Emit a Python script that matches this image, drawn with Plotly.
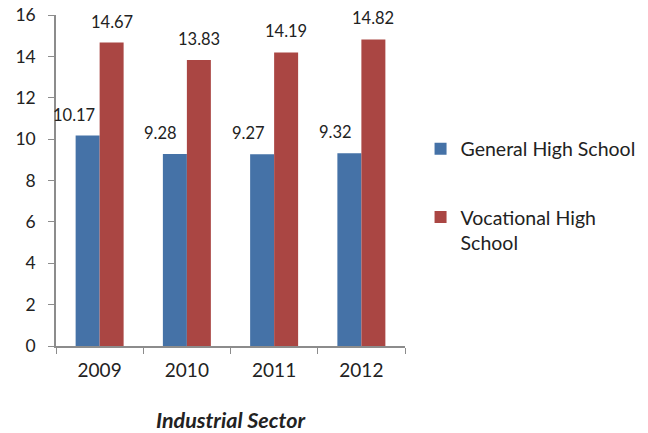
import plotly.graph_objects as go

years = ["2009", "2010", "2011", "2012"]
general = [10.17, 9.28, 9.27, 9.32]
vocational = [14.67, 13.83, 14.19, 14.82]
y_ticks = [0, 2, 4, 6, 8, 10, 12, 14, 16]

FONT = "Lato"
TXT = "#222222"
BLUE = "#4572A7"
RED = "#AA4643"

fig = go.Figure()
fig.add_trace(go.Bar(x=years, y=general, name="General High School",
                     marker=dict(color=BLUE, line=dict(width=0)), legendgroup="g"))
fig.add_trace(go.Bar(x=years, y=vocational, name="Vocational High<br>School",
                     marker=dict(color=RED, line=dict(width=0)), legendgroup="v"))

annotations = []
for i, (g, v) in enumerate(zip(general, vocational)):
    annotations.append(dict(x=i, y=g, xref="x", yref="y", text=f"{g:.2f}", showarrow=False,
                            xshift=-26, yshift=21, yanchor="middle",
                            font=dict(family=FONT, size=16.5, color=TXT)))
    annotations.append(dict(x=i, y=v, xref="x", yref="y", text=f"{v:.2f}", showarrow=False,
                            xshift=12, yshift=21, yanchor="middle",
                            font=dict(family=FONT, size=16.5, color=TXT)))

fig.update_layout(
    width=648, height=433,
    margin=dict(l=56, r=243, t=15, b=87, autoexpand=False),
    paper_bgcolor="white", plot_bgcolor="white",
    barmode="group", bargap=0.45, bargroupgap=0,
    font=dict(family=FONT, size=16, color=TXT),
    showlegend=True,
    legend=dict(xref="container", yref="container", x=0.649, y=0.701,
                xanchor="left", yanchor="top",
                font=dict(family=FONT, size=19.5, color=TXT),
                tracegroupgap=40, traceorder="grouped", valign="top",
                itemwidth=30),
    annotations=annotations,
    xaxis=dict(type="category", range=[-0.5, len(years) - 0.5], showline=True,
               automargin=False,
               linecolor="#8c8c8c", linewidth=1.5,
               ticks="outside", ticklen=6, tickcolor="#8c8c8c", tickson="boundaries",
               tickfont=dict(family=FONT, size=19, color=TXT), ticklabelstandoff=6,
               title=dict(text="<b><i>Industrial Sector</i></b>", standoff=45,
                          font=dict(family=FONT, size=21.5, color=TXT)),
               showgrid=False),
    yaxis=dict(range=[0, 16], tickvals=y_ticks, showline=True, linecolor="#8c8c8c",
               automargin=False, ticklabeloverflow="allow",
               linewidth=1.5, ticks="outside", ticklen=6, tickcolor="#8c8c8c",
               tickfont=dict(family=FONT, size=17.5, color=TXT), ticklabelstandoff=9,
               showgrid=False, zeroline=False),
)

fig.write_html("out.html", config={"displayModeBar": False},
               post_script="document.body.style.margin='0';document.body.style.padding='0';")
